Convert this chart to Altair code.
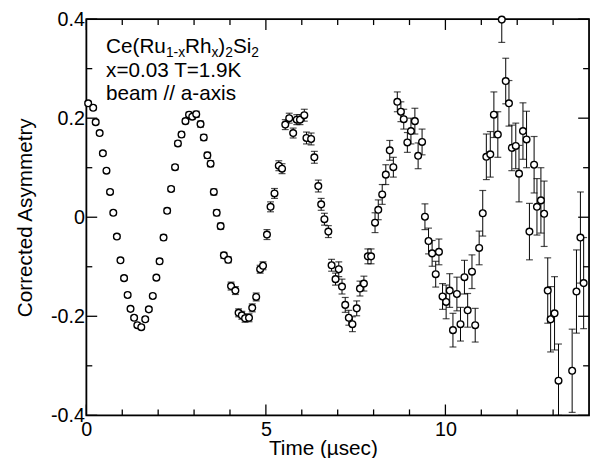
import altair as alt
import pandas as pd

# Time (µs)
time_us = [
    0.05, 0.19, 0.26, 0.37, 0.46, 0.56, 0.66, 0.75, 0.85, 0.95,
    1.05, 1.15, 1.23, 1.33, 1.42, 1.53, 1.64, 1.74, 1.85, 1.95,
    2.04, 2.15, 2.25, 2.36, 2.47, 2.55, 2.65, 2.76, 2.86, 2.95,
    3.06, 3.18, 3.27, 3.37, 3.46, 3.55, 3.63, 3.74, 3.83, 3.95,
    4.03, 4.15, 4.24, 4.33, 4.42, 4.53, 4.62, 4.73, 4.84, 4.92,
    5.03, 5.13, 5.24, 5.36, 5.45, 5.54, 5.65, 5.76, 5.86, 5.95,
    6.07, 6.13, 6.26, 6.35, 6.46, 6.54, 6.63, 6.74, 6.83, 6.94,
    7.03, 7.12, 7.21, 7.31, 7.41, 7.53, 7.62, 7.73, 7.84, 7.93,
    8.04, 8.13, 8.24, 8.34, 8.45, 8.55, 8.66, 8.76, 8.84, 8.94,
    9.04, 9.15, 9.24, 9.35, 9.43, 9.53, 9.63, 9.73, 9.82, 9.92,
    10.02, 10.12, 10.21, 10.32, 10.42, 10.53, 10.62, 10.74, 10.83, 10.94,
    11.04, 11.14, 11.25, 11.35, 11.46, 11.57, 11.68, 11.77, 11.85, 11.96,
    12.05, 12.16, 12.26, 12.34, 12.47, 12.55, 12.66, 12.75, 12.85, 12.93,
    13.04, 13.15, 13.53, 13.65, 13.76, 13.85,
]

# Corrected asymmetry
asym = [
    0.230, 0.221, 0.192, 0.170, 0.129, 0.094, 0.051, 0.009, -0.039, -0.087,
    -0.123, -0.157, -0.185, -0.203, -0.218, -0.222, -0.206, -0.186, -0.159, -0.122,
    -0.089, -0.041, 0.013, 0.057, 0.101, 0.149, 0.167, 0.194, 0.207, 0.203,
    0.208, 0.188, 0.161, 0.125, 0.108, 0.051, 0.009, -0.018, -0.077, -0.086,
    -0.139, -0.148, -0.193, -0.198, -0.204, -0.203, -0.183, -0.161, -0.105, -0.098,
    -0.035, 0.021, 0.048, 0.104, 0.098, 0.187, 0.200, 0.170, 0.197, 0.197,
    0.206, 0.160, 0.158, 0.121, 0.063, 0.026, -0.004, -0.029, -0.097, -0.125,
    -0.105, -0.140, -0.177, -0.203, -0.216, -0.184, -0.144, -0.134, -0.079, -0.079,
    -0.011, 0.015, 0.046, 0.086, 0.135, 0.101, 0.233, 0.213, 0.198, 0.151,
    0.174, 0.194, 0.124, 0.152, 0.001, -0.048, -0.073, -0.115, -0.070, -0.160,
    -0.171, -0.148, -0.228, -0.155, -0.216, -0.121, -0.188, -0.110, -0.218, -0.062,
    0.008, 0.122, 0.127, 0.207, 0.167, 0.399, 0.275, 0.230, 0.140, 0.144,
    0.088, 0.174, 0.157, -0.029, 0.106, 0.021, 0.034, 0.007, -0.148, -0.206,
    -0.194, -0.330, -0.310, -0.150, -0.041, -0.133,
]

# Error bar half-lengths
err = [
    0.004, 0.004, 0.004, 0.004, 0.004, 0.004, 0.004, 0.004, 0.004, 0.004,
    0.004, 0.004, 0.004, 0.004, 0.004, 0.004, 0.004, 0.004, 0.004, 0.004,
    0.005, 0.005, 0.005, 0.005, 0.005, 0.005, 0.005, 0.005, 0.005, 0.005,
    0.006, 0.006, 0.006, 0.006, 0.006, 0.006, 0.006, 0.006, 0.006, 0.006,
    0.008, 0.008, 0.008, 0.008, 0.008, 0.008, 0.008, 0.008, 0.008, 0.008,
    0.010, 0.010, 0.010, 0.010, 0.010, 0.010, 0.010, 0.010, 0.010, 0.010,
    0.012, 0.012, 0.012, 0.012, 0.012, 0.012, 0.012, 0.012, 0.012, 0.012,
    0.015, 0.015, 0.015, 0.015, 0.015, 0.015, 0.015, 0.015, 0.015, 0.015,
    0.020, 0.020, 0.020, 0.020, 0.020, 0.020, 0.020, 0.020, 0.020, 0.020,
    0.026, 0.026, 0.026, 0.026, 0.026, 0.026, 0.026, 0.026, 0.026, 0.026,
    0.034, 0.034, 0.034, 0.034, 0.034, 0.034, 0.034, 0.034, 0.034, 0.034,
    0.046, 0.046, 0.046, 0.046, 0.046, 0.046, 0.046, 0.046, 0.046, 0.046,
    0.057, 0.057, 0.057, 0.057, 0.057, 0.057, 0.066, 0.066, 0.066, 0.066,
    0.074, 0.074, 0.084, 0.084, 0.092, 0.092,
]

y_major = [-0.4, -0.2, 0.0, 0.2, 0.4]
y_minor = [-0.3, -0.1, 0.1, 0.3]
x_major = [0, 5, 10]
x_minor = [1, 2, 3, 4, 6, 7, 8, 9, 11, 12, 13]

FONT = "Liberation Sans"
W, H = 510, 402

df = pd.DataFrame({"t": time_us, "a": asym, "e": err})
df["lo"] = df["a"] - df["e"]
df["hi"] = df["a"] + df["e"]

xs = alt.Scale(domain=[0, 14], nice=False, zero=False)
ys = alt.Scale(domain=[-0.4, 0.4], nice=False, zero=False, clamp=True)

xaxis = alt.Axis(values=x_major, ticks=False, domain=False, grid=False,
                 labelFontSize=20, labelPadding=4, labelFlush=False,
                 labelOverlap=False, labelFont=FONT, labelColor="black",
                 format="d", title="Time (µsec)", titleFont=FONT,
                 titleFontSize=21, titleFontWeight="normal", titleColor="black",
                 titleX=240, titleY=40, titleBaseline="alphabetic")
yaxis = alt.Axis(values=y_major, ticks=False, domain=False, grid=False,
                 labelFontSize=20, labelPadding=2, labelOverlap=False,
                 labelFont=FONT, labelColor="black",
                 labelExpr="datum.value == 0 ? '0' : (datum.value < 0 ? '-' + format(-datum.value, '.1f') : format(datum.value, '.1f'))",
                 title="Corrected Asymmetry", titleFont=FONT, titleFontSize=21,
                 titleFontWeight="normal", titleColor="black",
                 titleX=-62, titleY=201, titleBaseline="middle", titleAngle=270)

base = alt.Chart(df)
X = alt.X("t:Q", scale=xs, axis=xaxis)

bars = base.mark_rule(color="black", strokeWidth=1).encode(
    x=X, y=alt.Y("lo:Q", scale=ys, axis=yaxis), y2="hi:Q")
cap_lo = base.mark_tick(color="black", orient="horizontal", size=7, thickness=1.2).encode(
    x=X, y=alt.Y("lo:Q", scale=ys, axis=yaxis))
cap_hi = base.mark_tick(color="black", orient="horizontal", size=7, thickness=1.2).encode(
    x=X, y=alt.Y("hi:Q", scale=ys, axis=yaxis))
pts = base.mark_point(shape="circle", size=46, filled=False, fill="white",
                      fillOpacity=1, stroke="black", strokeWidth=1.4, opacity=1).encode(
    x=X, y=alt.Y("a:Q", scale=ys, axis=yaxis))

ymaj = pd.DataFrame({"v": y_major})
ymin = pd.DataFrame({"v": y_minor})
xmaj = pd.DataFrame({"v": x_major})
xmin = pd.DataFrame({"v": x_minor})
YV = alt.Y("v:Q", scale=ys, axis=yaxis)
XV = alt.X("v:Q", scale=xs, axis=xaxis)
tick_style = dict(color="black", strokeWidth=1.3)

one = pd.DataFrame({"k": [0]})

frame = alt.Chart(one).mark_rect(fill="transparent", stroke="black", strokeWidth=1.8).encode(
    x=alt.value(0), x2=alt.value(W), y=alt.value(0), y2=alt.value(H))

ticks = [
    alt.Chart(ymaj).mark_rule(**tick_style).encode(y=YV, x=alt.value(0), x2=alt.value(11)),
    alt.Chart(ymin).mark_rule(**tick_style).encode(y=YV, x=alt.value(0), x2=alt.value(6)),
    alt.Chart(ymaj).mark_rule(**tick_style).encode(y=YV, x=alt.value(W), x2=alt.value(W - 11)),
    alt.Chart(ymin).mark_rule(**tick_style).encode(y=YV, x=alt.value(W), x2=alt.value(W - 6)),
    alt.Chart(xmaj).mark_rule(**tick_style).encode(x=XV, y=alt.value(H), y2=alt.value(H - 11)),
    alt.Chart(xmin).mark_rule(**tick_style).encode(x=XV, y=alt.value(H), y2=alt.value(H - 6)),
    alt.Chart(xmaj).mark_rule(**tick_style).encode(x=XV, y=alt.value(0), y2=alt.value(11)),
    alt.Chart(xmin).mark_rule(**tick_style).encode(x=XV, y=alt.value(0), y2=alt.value(6)),
]


def txt(s, x, y, size):
    return alt.Chart(one).mark_text(text=s, align="left", baseline="alphabetic",
                                    font=FONT, fontSize=size, color="black").encode(
        x=alt.value(x), y=alt.value(y))

big, small = 21, 14
x0, b1, b2, b3 = 20, 34, 59, 82
sub = 4
labels = [
    txt("Ce(Ru", x0, b1, big),
    txt("1-x", x0 + 60.7, b1 + sub, small),
    txt("Rh", x0 + 80.1, b1, big),
    txt("x", x0 + 106.9, b1 + sub, small),
    txt(")", x0 + 113.9, b1, big),
    txt("2", x0 + 120.9, b1 + sub, small),
    txt("Si", x0 + 128.7, b1, big),
    txt("2", x0 + 147.4, b1 + sub, small),
    txt("x=0.03 T=1.9K", x0, b2, big),
    txt("beam // a-axis", x0, b3, big),
]

chart = alt.layer(frame, *ticks, bars, cap_lo, cap_hi, pts, *labels).properties(
    width=W, height=H,
    autosize=alt.AutoSizeParams(type="none"),
    padding={"left": 79.5, "top": 8, "right": 2, "bottom": 40},
).configure_view(stroke="black", strokeWidth=1.6).configure(background="white")

chart.save("out.html", embed_options={"renderer": "svg", "actions": False})
